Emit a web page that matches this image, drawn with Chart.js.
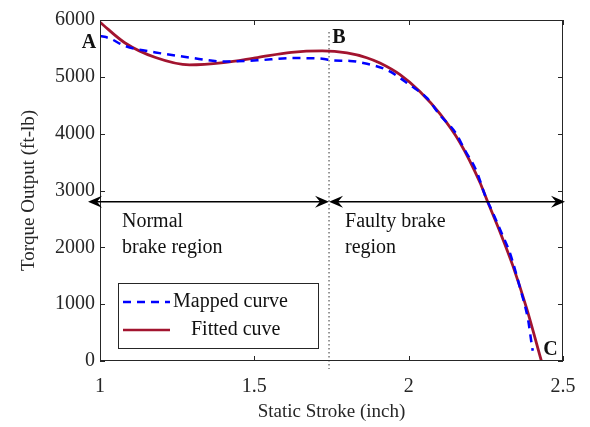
<!DOCTYPE html>
<html>
<head>
<meta charset="utf-8">
<script src="https://cdn.jsdelivr.net/npm/chart.js@4"></script>
<style>
  html, body { margin: 0; background: #fff; }
  #wrap { width: 590px; height: 427px; }
</style>
</head>
<body>
<div id="wrap"><canvas id="grafico"></canvas></div>
<script>
// Fitted curve (red)
const fittedX = [1.00, 1.08, 1.18, 1.29, 1.40, 1.51, 1.62, 1.72, 1.80, 1.864, 1.907, 1.972, 2.037, 2.101, 2.166, 2.231, 2.253, 2.296, 2.338, 2.382, 2.43];
const fittedY = [5960, 5600, 5340, 5210, 5250, 5340, 5430, 5455, 5420, 5336, 5242, 5037, 4738, 4352, 3845, 3140, 2840, 2270, 1670, 930, 0];

// Mapped curve (blue dashed)
const mappedX = [1.00, 1.03, 1.08, 1.18, 1.29, 1.40, 1.51, 1.62, 1.72, 1.75, 1.81, 1.865, 1.93, 2.004, 2.059, 2.101, 2.150, 2.182, 2.221, 2.247, 2.273, 2.301, 2.328, 2.36, 2.387, 2.398, 2.402];
const mappedY = [5720, 5680, 5545, 5430, 5340, 5270, 5290, 5330, 5320, 5290, 5280, 5230, 5120, 4856, 4628, 4329, 4030, 3713, 3326, 2921, 2604, 2252, 1900, 1302, 721, 316, 180];

// Axis ticks
const xTicks = [1, 1.5, 2, 2.5];
const yTicks = [0, 1000, 2000, 3000, 4000, 5000, 6000];

// Region marks
const boundaryX = 1.742;
const arrowY = 2800;
const pointLabels = [
  { text: 'A', x: 1.0, y: 5700 },
  { text: 'B', x: 1.742, y: 5700 },
  { text: 'C', x: 2.43, y: 200 }
];

const serif = '"Liberation Serif", "DejaVu Serif", serif';
const axisColor = '#262626';

function toPoints(xs, ys) {
  return xs.map((x, i) => ({ x: x, y: ys[i] }));
}

function arrowHead(ctx, x, y, dir) {
  // dir = 1 points right, -1 points left
  ctx.beginPath();
  ctx.moveTo(x, y);
  ctx.lineTo(x - dir * 14, y - 6);
  ctx.lineTo(x - dir * 9, y);
  ctx.lineTo(x - dir * 14, y + 6);
  ctx.closePath();
  ctx.fill();
}

const decor = {
  id: 'decor',
  beforeDatasetsDraw(chart) {
    const ctx = chart.ctx;
    const xs = chart.scales.x;
    const a = chart.chartArea;
    const bx = xs.getPixelForValue(boundaryX);
    ctx.save();
    ctx.strokeStyle = '#333';
    ctx.lineWidth = 1;
    ctx.setLineDash([1.5, 2.5]);
    ctx.beginPath();
    ctx.moveTo(bx, a.top + 12);
    ctx.lineTo(bx, a.bottom + 8);
    ctx.stroke();
    ctx.restore();
  },
  afterDatasetsDraw(chart) {
    const ctx = chart.ctx;
    const xs = chart.scales.x, ys = chart.scales.y;
    const a = chart.chartArea;
    ctx.save();

    // box + inward ticks
    ctx.strokeStyle = axisColor;
    ctx.lineWidth = 1;
    ctx.strokeRect(a.left + 0.5, a.top + 0.5, a.right - a.left - 1, a.bottom - a.top - 1);
    ctx.beginPath();
    xTicks.forEach(v => {
      const px = Math.round(xs.getPixelForValue(v)) + 0.5;
      ctx.moveTo(px, a.bottom); ctx.lineTo(px, a.bottom - 5);
      ctx.moveTo(px, a.top); ctx.lineTo(px, a.top + 5);
    });
    yTicks.forEach(v => {
      const py = Math.round(ys.getPixelForValue(v)) + 0.5;
      ctx.moveTo(a.left, py); ctx.lineTo(a.left + 5, py);
      ctx.moveTo(a.right, py); ctx.lineTo(a.right - 5, py);
    });
    ctx.stroke();

    // arrows
    const ay = ys.getPixelForValue(arrowY);
    const bx = xs.getPixelForValue(boundaryX);
    const leftTip = a.left - 12, rightTip = a.right + 2;
    ctx.strokeStyle = '#000';
    ctx.fillStyle = '#000';
    ctx.lineWidth = 1.5;
    ctx.beginPath();
    ctx.moveTo(leftTip + 4, ay); ctx.lineTo(bx - 4, ay);
    ctx.moveTo(bx + 4, ay); ctx.lineTo(rightTip - 4, ay);
    ctx.stroke();
    arrowHead(ctx, leftTip, ay, -1);
    arrowHead(ctx, bx, ay, 1);
    arrowHead(ctx, bx, ay, -1);
    arrowHead(ctx, rightTip, ay, 1);

    // region text
    ctx.fillStyle = '#111';
    ctx.font = '20px ' + serif;
    ctx.textAlign = 'left';
    ctx.textBaseline = 'middle';
    ctx.fillText('Normal', a.left + 22, ay + 20);
    ctx.fillText('brake region', a.left + 22, ay + 46);
    ctx.fillText('Faulty brake', bx + 16, ay + 20);
    ctx.fillText('region', bx + 16, ay + 46);

    // point labels
    ctx.font = 'bold 20px ' + serif;
    ctx.textAlign = 'center';
    const offs = { A: [-11, 6], B: [10, 1], C: [9, 0] };
    pointLabels.forEach(p => {
      const o = offs[p.text];
      ctx.fillText(p.text, xs.getPixelForValue(p.x) + o[0], ys.getPixelForValue(p.y) + o[1]);
    });

    // legend
    const lx = a.left + 18, ly = a.bottom - 78;
    ctx.fillStyle = '#fff';
    ctx.fillRect(lx, ly, 200, 65);
    ctx.strokeStyle = '#262626';
    ctx.lineWidth = 1;
    ctx.strokeRect(lx + 0.5, ly + 0.5, 200, 65);
    ctx.lineWidth = 2.5;
    ctx.strokeStyle = '#0000FF';
    ctx.setLineDash([8, 6]);
    ctx.beginPath(); ctx.moveTo(lx + 5, ly + 19); ctx.lineTo(lx + 52, ly + 19); ctx.stroke();
    ctx.setLineDash([]);
    ctx.strokeStyle = '#A2142F';
    ctx.beginPath(); ctx.moveTo(lx + 5, ly + 47); ctx.lineTo(lx + 52, ly + 47); ctx.stroke();
    ctx.fillStyle = '#111';
    ctx.font = '20px ' + serif;
    ctx.textAlign = 'left';
    ctx.fillText('Mapped curve', lx + 55, ly + 19);
    ctx.fillText('Fitted cuve', lx + 73, ly + 47);

    ctx.restore();
  }
};

new Chart(document.getElementById('grafico'), {
  type: 'line',
  data: {
    datasets: [
      {
        label: 'Mapped curve',
        data: toPoints(mappedX, mappedY),
        borderColor: '#0000FF',
        borderWidth: 2.5,
        borderDash: [8, 6],
        pointRadius: 0,
        cubicInterpolationMode: 'monotone',
        fill: false
      },
      {
        label: 'Fitted cuve',
        data: toPoints(fittedX, fittedY),
        borderColor: '#A2142F',
        borderWidth: 2.8,
        pointRadius: 0,
        cubicInterpolationMode: 'monotone',
        fill: false
      }
    ]
  },
  options: {
    responsive: true,
    maintainAspectRatio: false,
    animation: false,
    layout: { padding: { top: 20, right: 27, left: 0, bottom: 0 } },
    plugins: { legend: { display: false }, tooltip: { enabled: false } },
    scales: {
      x: {
        type: 'linear',
        min: 1, max: 2.5,
        afterBuildTicks: s => { s.ticks = xTicks.map(v => ({ value: v })); },
        afterFit: s => { s.height = 66; },
        grid: { display: false, drawTicks: false },
        border: { display: false },
        ticks: { color: axisColor, padding: 14, maxRotation: 0, callback: v => String(v), font: { family: serif, size: 20 } },
        title: { display: true, text: 'Static Stroke (inch)', color: axisColor, padding: { top: 0 }, font: { family: serif, size: 19 } }
      },
      y: {
        min: 0, max: 6000,
        afterBuildTicks: s => { s.ticks = yTicks.map(v => ({ value: v })); },
        afterFit: s => { s.width = 100; },
        grid: { display: false, drawTicks: false },
        border: { display: false },
        ticks: { color: axisColor, padding: 5, callback: v => String(v), font: { family: serif, size: 20 } },
        title: { display: true, text: 'Torque Output (ft-lb)', color: axisColor, padding: { top: 18, bottom: 0 }, font: { family: serif, size: 19 } }
      }
    }
  },
  plugins: [decor]
});
</script>
</body>
</html>
